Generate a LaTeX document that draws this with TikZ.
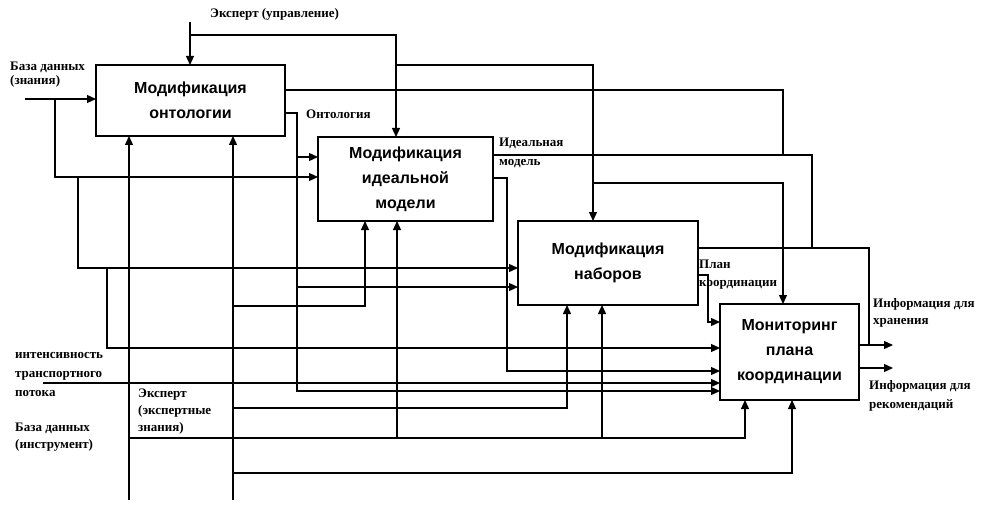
\documentclass[tikz,border=0pt]{standalone}
\usepackage{fontspec}
\setmainfont{Liberation Serif}
\newfontfamily\blockfont{Liberation Sans}
\usetikzlibrary{arrows.meta}
\tikzset{
  func/.style={draw, line width=1.3pt, inner sep=0pt, outer sep=0pt, align=center,
    font=\blockfont\bfseries\fontsize{16}{25}\selectfont},
  wire/.style={line width=1.3pt},
  flow/.style={wire, -{Triangle[length=9pt,width=8pt]}},
  lbl/.style={font=\bfseries\fontsize{13}{#1}\selectfont, align=left, inner sep=0pt, anchor=north west},
  lbl/.default=17
}

\begin{document}
\begin{tikzpicture}[x=1pt, y=-1pt]
\useasboundingbox (0,0) rectangle (981,505);
% functional blocks A1..A4
\node[func, minimum width=189, minimum height=71] (m1) at (190.5,100.5) {Модификация\\онтологии};
\node[func, minimum width=175, minimum height=84] (m2) at (405.5,179) {Модификация\\идеальной\\модели};
\node[func, minimum width=180, minimum height=84] (m3) at (608,263) {Модификация\\наборов};
\node[func, minimum width=139, minimum height=96] (m4) at (789.5,352) {Мониторинг\\плана\\координации};

% control: expert (management)
\coordinate (ctl) at (190,22);
\coordinate (c2) at (396,35);
\coordinate (c3) at (593,65);
\coordinate (c4) at (783,183);
\draw[flow] (ctl) -- (ctl |- m1.north);
\draw[flow] (ctl |- c2) -| (m2.north -| c2);
\draw[flow] (c2 |- c3) -| (m3.north -| c3);
\draw[flow] (c3 |- c4) -| (m4.north -| c4);

% outputs collected for storage
\coordinate (st1) at (783,90);
\coordinate (st2) at (812,155);
\coordinate (st3) at (869,248);
\coordinate (st4) at (893,345);
\coordinate (rec) at (893,368);
\draw[wire] (m1.east |- st1) -- (st1) -- (st1 |- st2);
\draw[wire] (m2.east |- st2) -- (st2) -- (st2 |- st3);
\draw[wire] (m3.east |- st3) -- (st3) -- (st3 |- st4);
\draw[flow] (m4.east |- st4) -- (st4);
\draw[flow] (m4.east |- rec) -- (rec);

% ontology from A1
\coordinate (on) at (297,113);
\coordinate (on2) at (297,157);
\coordinate (on3) at (297,287);
\coordinate (on4) at (297,391);
\draw[flow] (m1.east |- on) -- (on) |- (m4.west |- on4);
\draw[flow] (on2) -- (m2.west |- on2);
\draw[flow] (on3) -- (m3.west |- on3);

% ideal model and plan
\coordinate (im) at (507,178);
\coordinate (im4) at (507,371);
\draw[flow] (m2.east |- im) -- (im) |- (m4.west |- im4);
\coordinate (pl) at (708,275);
\coordinate (pl4) at (708,322);
\draw[flow] (m3.east |- pl) -- (pl) |- (m4.west |- pl4);

% data base (knowledge) inputs
\coordinate (bd) at (25,99);
\coordinate (bd2) at (55,177);
\coordinate (bd3) at (78,268);
\coordinate (bd4) at (107,348);
\draw[flow] (bd) -- (m1.west |- bd);
\draw[flow] (bd -| bd2) |- (m2.west |- bd2);
\draw[flow] (bd2 -| bd3) |- (m3.west |- bd3);
\draw[flow] (bd3 -| bd4) |- (m4.west |- bd4);

% traffic intensity
\coordinate (tr) at (43,383);
\draw[flow] (tr) -- (m4.west |- tr);

% mechanisms
\coordinate (ex) at (129,500);
\coordinate (ex2) at (397,438);
\coordinate (ex3) at (602,438);
\coordinate (ex4) at (745,438);
\draw[flow] (ex) -- (ex |- m1.south);
\draw[flow] (ex |- ex4) -| (ex4 |- m4.south);
\draw[flow] (ex2) -- (ex2 |- m2.south);
\draw[flow] (ex3) -- (ex3 |- m3.south);
\coordinate (db) at (233,500);
\coordinate (db2) at (365,306);
\coordinate (db3) at (567,408);
\coordinate (db4) at (792,473);
\draw[flow] (db) -- (db |- m1.south);
\draw[flow] (db |- db2) -| (db2 |- m2.south);
\draw[flow] (db |- db3) -| (db3 |- m3.south);
\draw[flow] (db |- db4) -| (db4 |- m4.south);

% labels
\node[lbl] (lctl) at (210,8) {Эксперт (управление)};
\node[lbl=14] (lbd) at (10,62) {База данных\\(знания)};
\node[lbl] (lon) at (306,110) {Онтология};
\node[lbl=19] (lim) at (499,138) {Идеальная\\модель};
\node[lbl=18] (lpl) at (699,260) {План\\координации};
\node[lbl=17] (lst) at (873,298) {Информация для\\хранения};
\node[lbl=19] (lrec) at (869,380) {Информация для\\рекомендаций};
\node[lbl=19] (ltr) at (15,352) {интенсивность\\транспортного\\потока};
\node[lbl=17] (lex) at (138,389) {Эксперт\\(экспертные\\знания)};
\node[lbl=17] (ldb) at (15,423) {База данных\\(инструмент)};
\end{tikzpicture}
\end{document}
